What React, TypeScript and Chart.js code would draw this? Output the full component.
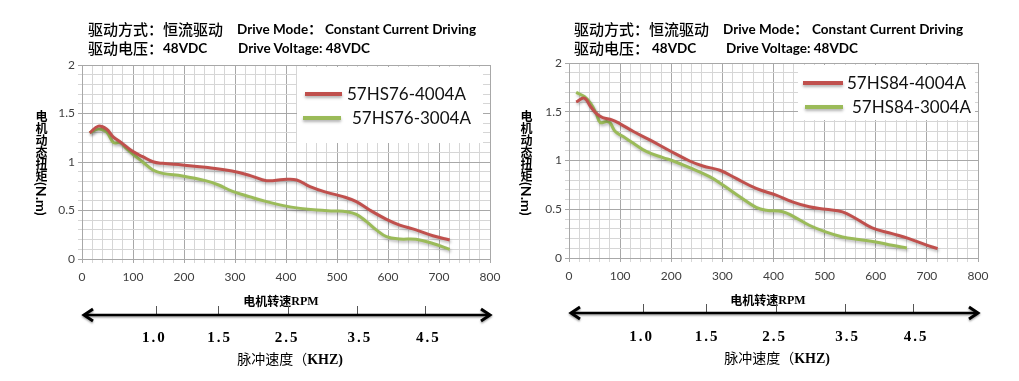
import React, { useEffect, useRef } from 'react';
import { Chart, registerables } from 'chart.js';

Chart.register(...registerables);

// ---------------- data ----------------
const rpmMin = 0;
const rpmMax = 800;
const torqueMin = 0;
const torqueMax = 2;

// 57HS76 panel
const hs76Names = ['57HS76-4004A', '57HS76-3004A'];
const hs76_4004_rpm = [15, 32, 48, 61, 77, 100, 119, 139, 158, 197, 242, 294, 330, 362, 395, 421, 447, 480, 512, 538, 564, 597, 623, 655, 688, 721];
const hs76_4004_nm = [1.30, 1.37, 1.34, 1.26, 1.20, 1.107, 1.055, 1.003, 0.986, 0.969, 0.945, 0.907, 0.86, 0.807, 0.82, 0.815, 0.746, 0.687, 0.643, 0.591, 0.505, 0.409, 0.35, 0.30, 0.24, 0.196];
const hs76_3004_rpm = [15, 32, 48, 62, 75, 87, 100, 119, 139, 158, 197, 242, 268, 294, 330, 362, 395, 428, 460, 493, 519, 538, 558, 577, 597, 623, 655, 688, 721];
const hs76_3004_nm = [1.30, 1.34, 1.31, 1.20, 1.20, 1.14, 1.08, 1.00, 0.918, 0.883, 0.856, 0.808, 0.763, 0.70, 0.64, 0.591, 0.55, 0.522, 0.505, 0.495, 0.488, 0.46, 0.385, 0.30, 0.23, 0.206, 0.203, 0.16, 0.10];

// 57HS84 panel
const hs84Names = ['57HS84-4004A', '57HS84-3004A'];
const hs84_4004_rpm = [14, 30, 42, 55, 66, 84, 100, 126, 158, 197, 236, 262, 295, 327, 366, 405, 437, 470, 502, 535, 561, 593, 632, 665, 697, 721];
const hs84_4004_nm = [1.60, 1.64, 1.554, 1.475, 1.44, 1.417, 1.376, 1.297, 1.211, 1.10, 0.995, 0.943, 0.90, 0.816, 0.714, 0.645, 0.576, 0.525, 0.50, 0.473, 0.405, 0.309, 0.25, 0.199, 0.137, 0.096];
const hs84_3004_rpm = [14, 30, 42, 53, 61, 74, 81, 90, 106, 126, 152, 184, 204, 236, 275, 301, 334, 366, 386, 418, 437, 470, 502, 535, 567, 600, 632, 661];
const hs84_3004_nm = [1.698, 1.657, 1.588, 1.485, 1.39, 1.40, 1.382, 1.30, 1.245, 1.177, 1.09, 1.03, 0.995, 0.926, 0.834, 0.748, 0.628, 0.52, 0.49, 0.475, 0.432, 0.336, 0.268, 0.216, 0.189, 0.165, 0.13, 0.103];

// pulse-speed annotation (KHZ) and where its marks sit on the RPM axis
const khzLabels = ['1.0', '1.5', '2.5', '3.5', '4.5'];
const khzTickRpm = [145, 267, 404, 539, 672];
const khzLabelRpm = [140, 268, 400, 543, 677];

// texts
const headerCn1 = '驱动方式：恒流驱动';
const headerEn1a = 'Drive Mode：';
const headerEn1b = 'Constant Current Driving';
const headerCn2 = '驱动电压：';
const headerEn2a = '48VDC';
const headerEn2b = 'Drive Voltage: 48VDC';
const yTitleCn = '电机动态扭矩';
const yTitleUnit = '(N.m)';
const rpmTitleCn = '电机转速';
const rpmTitleEn = 'RPM';
const khzTitleCn = '脉冲速度（';
const khzTitleEn = 'KHZ)';

// ---------------- styles ----------------
const RED = '#c0504d';
const GREEN = '#9bbb59';
const GRID_MINOR = '#d6d6d6';
const GRID_MAJOR = '#a8a8a8';
const TICK_TEXT = '#404040';
const CJK = '"Noto Sans CJK SC"';

type Panel = {
  left: number;
  width: number;
  padTop: number;
  padRight: number;
  padBottom: number;
  yWidth: number;
  xHeight: number;
  names: string[];
  rpmA: number[];
  nmA: number[];
  rpmB: number[];
  nmB: number[];
  legendBox: { x: number; y: number; w: number; h: number };
  legendRows: { y: number; x1: number; x2: number; tx: number }[];
  rpmTitleY: number;
  arrowY: number;
  tickTop: number;
  khzLabelY: number;
  khzTitleY: number;
  rpmTitleAt: number;
  khzTitleAt: number;
  header: { x0: number; x1: number; x2: number; x3: number; x4: number };
  yTitleX: number;
};

const panels: Panel[] = [
  {
    left: 0, width: 510, padTop: 65, padRight: 20, padBottom: 86, yWidth: 82, xHeight: 36,
    names: hs76Names, rpmA: hs76_4004_rpm, nmA: hs76_4004_nm, rpmB: hs76_3004_rpm, nmB: hs76_3004_nm,
    legendBox: { x: 297, y: 67, w: 186, h: 76 },
    legendRows: [{ y: 94, x1: 305, x2: 342, tx: 347 }, { y: 118, x1: 303, x2: 341, tx: 352 }],
    rpmTitleY: 301, arrowY: 315, tickTop: 306, khzLabelY: 338, khzTitleY: 359,
    rpmTitleAt: 390, khzTitleAt: 408,
    header: { x0: 88, x1: 237, x2: 325, x3: 163, x4: 238 },
    yTitleX: 43,
  },
  {
    left: 510, width: 509, padTop: 63, padRight: 41, padBottom: 87, yWidth: 59, xHeight: 36,
    names: hs84Names, rpmA: hs84_4004_rpm, nmA: hs84_4004_nm, rpmB: hs84_3004_rpm, nmB: hs84_3004_nm,
    legendBox: { x: 288, y: 65, w: 177, h: 55 },
    legendRows: [{ y: 83, x1: 293, x2: 333, tx: 337 }, { y: 107, x1: 295, x2: 333, tx: 342 }],
    rpmTitleY: 300, arrowY: 313, tickTop: 304, khzLabelY: 337, khzTitleY: 358,
    rpmTitleAt: 389, khzTitleAt: 407,
    header: { x0: 574, x1: 723, x2: 812, x3: 652, x4: 726 },
    yTitleX: 528,
  },
];

function toPoints(xs: number[], ys: number[]) {
  return xs.map((x, i) => ({ x, y: ys[i] }));
}

function buildConfig(p: Panel): any {
  const shadowPlugin = {
    id: 'lineShadow',
    beforeDatasetsDraw(chart: any) {
      const c = chart.ctx;
      c.save();
      c.shadowColor = 'rgba(0,0,0,0.28)';
      c.shadowBlur = 3;
      c.shadowOffsetX = 1;
      c.shadowOffsetY = 2;
    },
    afterDatasetsDraw(chart: any) {
      chart.ctx.restore();
    },
  };

  const legendPlugin = {
    id: 'boxLegend',
    afterDraw(chart: any) {
      const c = chart.ctx;
      const b = p.legendBox;
      c.save();
      c.fillStyle = '#ffffff';
      c.fillRect(b.x, b.y, b.w, b.h);
      chart.data.datasets.forEach((ds: any, i: number) => {
        const r = p.legendRows[i];
        c.save();
        c.shadowColor = 'rgba(0,0,0,0.3)';
        c.shadowBlur = 3;
        c.shadowOffsetY = 2;
        c.strokeStyle = ds.borderColor;
        c.lineWidth = 4;
        c.lineCap = 'butt';
        c.beginPath();
        c.moveTo(r.x1, r.y);
        c.lineTo(r.x2, r.y);
        c.stroke();
        c.restore();
        c.fillStyle = '#111';
        c.font = '17px Lato';
        c.textBaseline = 'middle';
        c.textAlign = 'left';
        c.fillText(ds.label, r.tx, r.y + 1);
      });
      c.restore();
    },
  };

  const bottomPlugin = {
    id: 'pulseAxis',
    afterDraw(chart: any) {
      const c = chart.ctx;
      const xs = chart.scales.x;
      const area = chart.chartArea;
      c.save();
      // RPM title
      c.textBaseline = 'middle';
      c.fillStyle = '#000';
      const fCn1 = 'bold 12px ' + CJK;
      const fEn1 = 'bold 12px "Liberation Serif"';
      c.font = fCn1;
      const w1 = c.measureText(rpmTitleCn).width;
      c.font = fEn1;
      const w2 = c.measureText(rpmTitleEn).width;
      let sx = xs.getPixelForValue(p.rpmTitleAt) - (w1 + w2) / 2;
      c.textAlign = 'left';
      c.font = fCn1;
      c.fillText(rpmTitleCn, sx, p.rpmTitleY);
      c.font = fEn1;
      c.fillText(rpmTitleEn, sx + w1, p.rpmTitleY + 1);

      // tick marks
      c.strokeStyle = '#555';
      c.lineWidth = 1;
      khzTickRpm.forEach((v) => {
        const px = Math.round(xs.getPixelForValue(v)) + 0.5;
        c.beginPath();
        c.moveTo(px, p.tickTop);
        c.lineTo(px, p.arrowY);
        c.stroke();
      });

      // double arrow
      c.save();
      c.shadowColor = 'rgba(0,0,0,0.35)';
      c.shadowBlur = 2;
      c.shadowOffsetY = 1.5;
      c.strokeStyle = '#000';
      c.lineWidth = 2.5;
      const L = area.left + 1;
      const R = area.right + 1;
      c.beginPath();
      c.moveTo(L + 2, p.arrowY);
      c.lineTo(R - 2, p.arrowY);
      c.stroke();
      c.lineWidth = 3;
      c.lineJoin = 'miter';
      c.beginPath();
      c.moveTo(L + 10, p.arrowY - 6);
      c.lineTo(L + 1, p.arrowY);
      c.lineTo(L + 10, p.arrowY + 6);
      c.stroke();
      c.beginPath();
      c.moveTo(R - 10, p.arrowY - 6);
      c.lineTo(R - 1, p.arrowY);
      c.lineTo(R - 10, p.arrowY + 6);
      c.stroke();
      c.restore();

      // KHZ labels
      c.font = '600 15px "Liberation Serif"';
      c.textAlign = 'center';
      try { (c as any).letterSpacing = '2px'; } catch (e) {}
      khzLabels.forEach((t, i) => {
        c.fillText(t, xs.getPixelForValue(khzLabelRpm[i]) + 1, p.khzLabelY);
      });
      try { (c as any).letterSpacing = '0px'; } catch (e) {}

      // KHZ title
      const fCn2 = '14px ' + CJK;
      const fEn2 = 'bold 14px "Liberation Serif"';
      c.font = fCn2;
      const w3 = c.measureText(khzTitleCn).width;
      c.font = fEn2;
      const w4 = c.measureText(khzTitleEn).width;
      sx = xs.getPixelForValue(p.khzTitleAt) - (w3 + w4) / 2;
      c.textAlign = 'left';
      c.font = fCn2;
      c.fillText(khzTitleCn, sx, p.khzTitleY);
      c.font = fEn2;
      c.fillText(khzTitleEn, sx + w3, p.khzTitleY + 1);
      c.restore();
    },
  };

  const gridColor = (major: (v: number) => boolean) => (ctx: any) =>
    ctx.tick && major(ctx.tick.value) ? GRID_MAJOR : GRID_MINOR;
  const isMajorX = (v: number) => Math.round(v) % 100 === 0;
  const isMajorY = (v: number) => Math.round(v * 10) % 5 === 0;

  return {
    type: 'line',
    data: {
      datasets: [
        { label: p.names[0], data: toPoints(p.rpmA, p.nmA), borderColor: RED, backgroundColor: RED, borderWidth: 3, pointRadius: 0, tension: 0.4, fill: false },
        { label: p.names[1], data: toPoints(p.rpmB, p.nmB), borderColor: GREEN, backgroundColor: GREEN, borderWidth: 3, pointRadius: 0, tension: 0.4, fill: false },
      ],
    },
    options: {
      animation: false,
      responsive: false,
      maintainAspectRatio: false,
      events: [],
      layout: { padding: { left: 0, top: p.padTop, right: p.padRight, bottom: p.padBottom } },
      plugins: { legend: { display: false }, tooltip: { enabled: false }, title: { display: false } },
      scales: {
        x: {
          type: 'linear',
          min: rpmMin,
          max: rpmMax,
          afterFit: (s: any) => { s.height = p.xHeight; },
          border: { color: GRID_MAJOR, width: 1 },
          grid: { color: gridColor(isMajorX), lineWidth: 1, tickLength: 4 },
          ticks: {
            stepSize: 20,
            autoSkip: false,
            maxRotation: 0,
            padding: 7,
            color: TICK_TEXT,
            font: { family: 'Lato', size: 12 },
            callback: (v: number) => (isMajorX(v) ? String(v) : ''),
          },
        },
        y: {
          type: 'linear',
          min: torqueMin,
          max: torqueMax,
          afterFit: (s: any) => { s.width = p.yWidth; },
          border: { color: GRID_MAJOR, width: 1 },
          grid: { color: gridColor(isMajorY), lineWidth: 1, tickLength: 4 },
          ticks: {
            stepSize: 0.1,
            autoSkip: false,
            padding: 3,
            color: TICK_TEXT,
            font: { family: 'Lato', size: 12 },
            callback: (v: number) => (isMajorY(v) ? String(Math.round(v * 10) / 10) : ''),
          },
        },
      },
    },
    plugins: [shadowPlugin, legendPlugin, bottomPlugin],
  };
}

function PanelChart({ p }: { p: Panel }) {
  const ref = useRef<HTMLCanvasElement | null>(null);
  useEffect(() => {
    if (!ref.current) return;
    const chart = new Chart(ref.current, buildConfig(p));
    return () => chart.destroy();
  }, [p]);
  return (
    <canvas
      ref={ref}
      width={p.width}
      height={381}
      style={{ position: 'absolute', left: p.left, top: 0, width: p.width, height: 381 }}
    />
  );
}

const cnHeadFont = '500 15px ' + CJK;
const enHeadFont = 'bold 13.5px Lato, ' + CJK;

function Header({ p }: { p: Panel }) {
  const h = p.header;
  const s = (x: number, y: number, font: string): React.CSSProperties => ({
    position: 'absolute', left: x, top: y, font, lineHeight: '18px', whiteSpace: 'nowrap', color: '#000',
  });
  return (
    <>
      <div style={s(h.x0, 20, cnHeadFont)}>{headerCn1}</div>
      <div style={s(h.x1, 20, enHeadFont)}>{headerEn1a}</div>
      <div style={s(h.x2, 20, enHeadFont)}>{headerEn1b}</div>
      <div style={s(h.x0, 38.5, cnHeadFont)}>{headerCn2}</div>
      <div style={s(h.x3, 38.5, enHeadFont)}>{headerEn2a}</div>
      <div style={s(h.x4, 38.5, enHeadFont)}>{headerEn2b}</div>
      <div
        style={{
          position: 'absolute', left: p.yTitleX - 7, top: 110, width: 14,
          writingMode: 'vertical-rl', font: 'bold 12px ' + CJK, lineHeight: '14px', color: '#000', whiteSpace: 'nowrap',
        }}
      >
        {yTitleCn}
        <span style={{ font: 'bold 14px Lato' }}>{yTitleUnit}</span>
      </div>
    </>
  );
}

export default function App() {
  return (
    <div style={{ position: 'absolute', left: 0, top: 0, width: 1019, height: 381, background: '#fff', overflow: 'hidden' }}>
      {panels.map((p, i) => (
        <PanelChart key={'c' + i} p={p} />
      ))}
      {panels.map((p, i) => (
        <Header key={'h' + i} p={p} />
      ))}
    </div>
  );
}
